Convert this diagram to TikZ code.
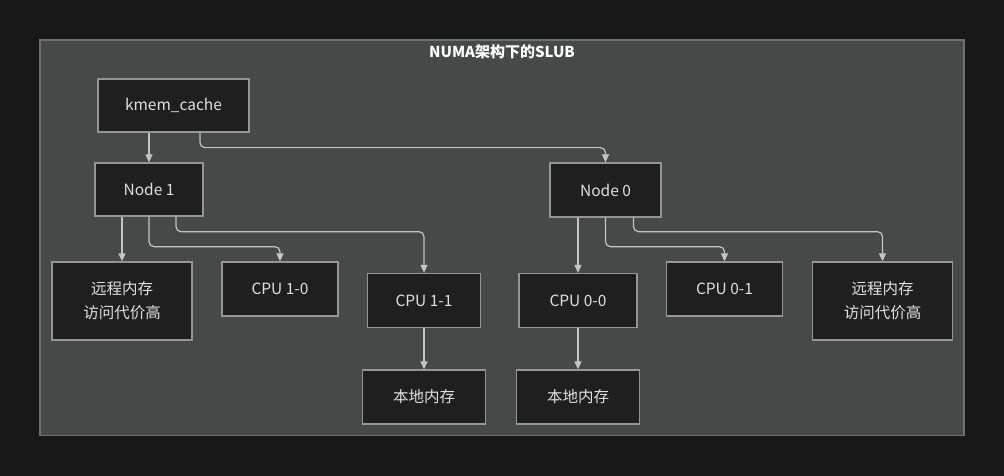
\documentclass[tikz,border=0pt]{standalone}
\usepackage{fontspec}
\setmainfont{Noto Sans CJK SC}
\usetikzlibrary{arrows.meta}
\definecolor{pagebg}{HTML}{181818}
\definecolor{clusterbg}{HTML}{474948}
\definecolor{clusterline}{HTML}{6E706F}
\definecolor{boxbg}{HTML}{1F1F1F}
\definecolor{boxline}{HTML}{959595}
\definecolor{edgeline}{HTML}{C4C4C4}
\definecolor{labeltext}{HTML}{E0E0E0}
\tikzset{
  box/.style={draw=boxline, fill=boxbg, line width=1.3pt, text=labeltext,
    font=\fontsize{15.5}{24}\selectfont, align=center, inner sep=0pt},
  link/.style={draw=edgeline, line width=1.2pt, rounded corners=5pt,
    -{Triangle[length=8pt,width=7pt]}}
}
\begin{document}
\begin{tikzpicture}[x=1pt, y=-1pt]
          \useasboundingbox [fill=pagebg] (0, 0) rectangle (1004, 476);
          \draw [fill=clusterbg, draw=clusterline, line width=1.2pt] (40, 40) rectangle (964, 435.5);
          \node [text=white, font=\fontsize{15}{18}\selectfont\bfseries] (title) at (502, 52) {NUMA架构下的SLUB};

          \node [box, minimum width=151pt, minimum height=53pt] (kmem) at (173.5, 105.5) {kmem\_cache};
          \node [box, minimum width=108pt, minimum height=53pt] (n1) at (149, 189.5) {Node 1};
          \node [box, minimum width=111pt, minimum height=54pt] (n0) at (605.5, 190) {Node 0};

          \node [box, minimum width=140pt, minimum height=78pt] (r1) at (122, 301) {远程内存\\访问代价高};
          \node [box, minimum width=116pt, minimum height=54pt] (c10) at (280, 289) {CPU 1-0};
          \node [box, minimum width=113pt, minimum height=54pt] (c11) at (424, 300.5) {CPU 1-1};
          \node [box, minimum width=123pt, minimum height=54pt] (m1) at (424, 397) {本地内存};

          \node [box, minimum width=118pt, minimum height=54pt] (c00) at (578, 300.5) {CPU 0-0};
          \node [box, minimum width=123pt, minimum height=54pt] (m0) at (578, 397) {本地内存};
          \node [box, minimum width=116pt, minimum height=54pt] (c01) at (724.5, 289) {CPU 0-1};
          \node [box, minimum width=140pt, minimum height=78pt] (r0) at (882.5, 301) {远程内存\\访问代价高};

          \draw [link] ([xshift=-24.5pt]kmem.south) -- (n1.north);
          \draw [link] ([xshift=26.5pt]kmem.south) -- ++(0, 15) -| (n0.north);

          \draw [link] ([xshift=-27pt]n1.south) -- (r1.north);
          \draw [link] (n1.south) -- ++(0, 30) -| (c10.north);
          \draw [link] ([xshift=27pt]n1.south) -- ++(0, 15) -| (c11.north);
          \draw [link] (c11.south) -- (m1.north);

          \draw [link] ([xshift=-27.5pt]n0.south) -- (c00.north);
          \draw [link] (n0.south) -- ++(0, 29) -| (c01.north);
          \draw [link] ([xshift=28pt]n0.south) -- ++(0, 14) -| (r0.north);
          \draw [link] (c00.south) -- (m0.north);
        \end{tikzpicture}
\end{document}
